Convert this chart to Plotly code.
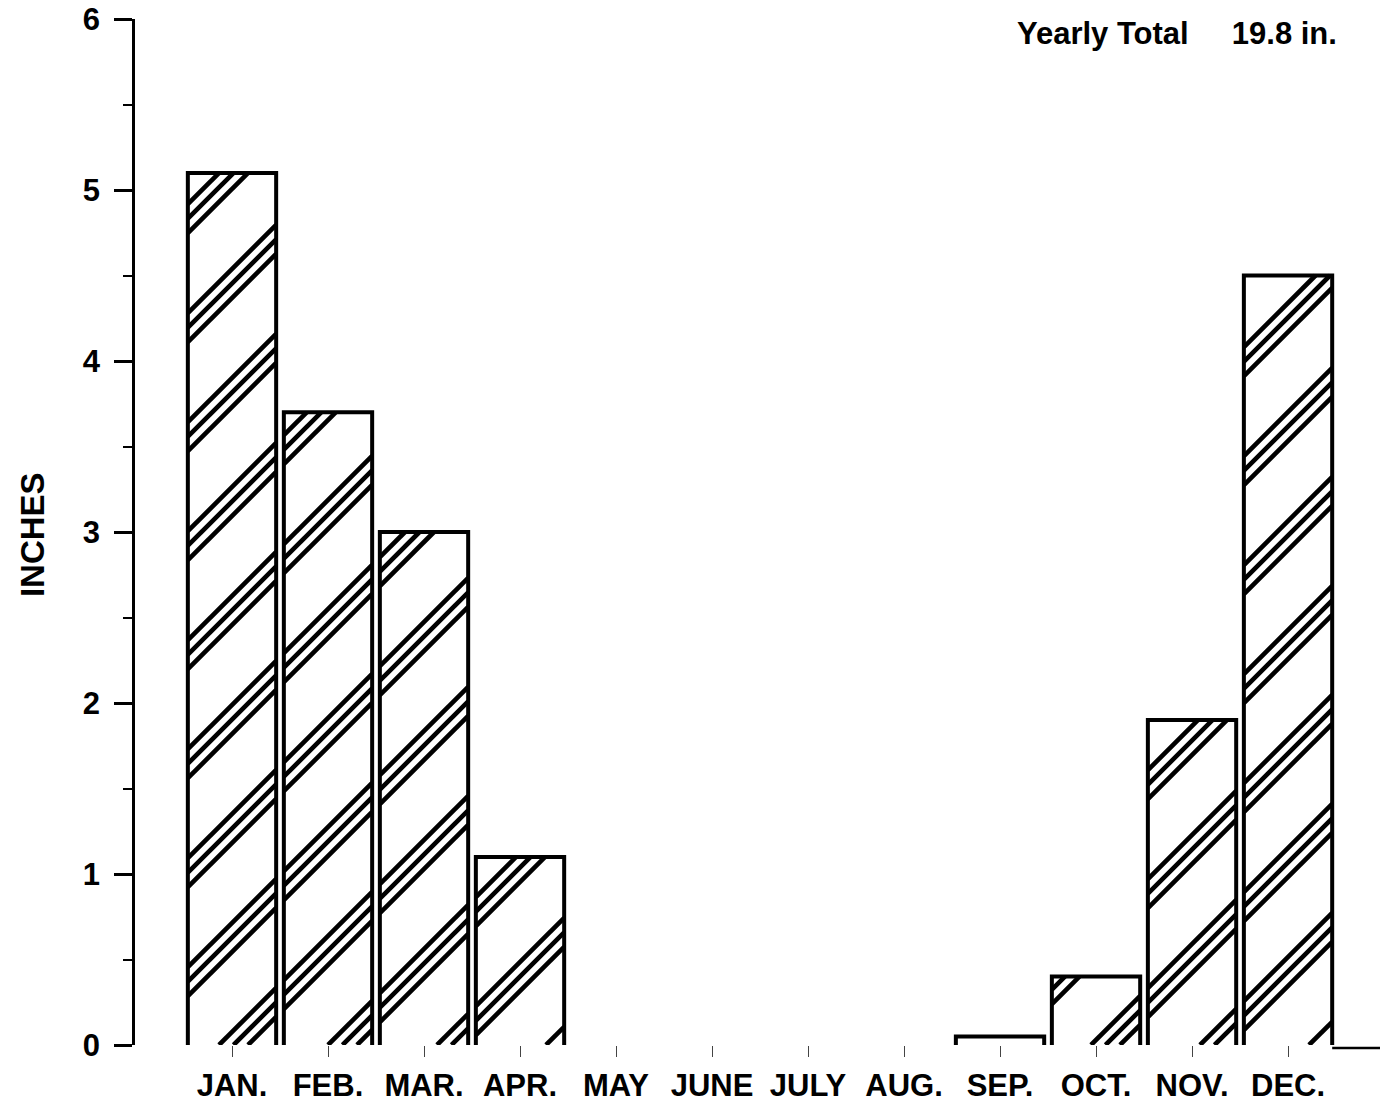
import math
import plotly.graph_objects as go

# Monthly precipitation (inches)
months = ["JAN.", "FEB.", "MAR.", "APR.", "MAY", "JUNE",
          "JULY", "AUG.", "SEP.", "OCT.", "NOV.", "DEC."]
rain_in = [5.1, 3.7, 3.0, 1.1, 0.0, 0.0, 0.0, 0.0, 0.05, 0.4, 1.9, 4.5]
y_tick_vals = [0, 1, 2, 3, 4, 5, 6]
total_label = "Yearly Total\u00a0\u00a0\u00a0\u00a0\u00a019.8 in."

# Page / plot geometry
W, H = 1380, 1103
M_L, M_R, M_T, M_B = 135, 0, 19, 58
X_RANGE = [-1.0104, 11.958]
Y_RANGE = [0, 6]
BAR_HALF = 0.46          # half bar width, category units

FONT = "Liberation Sans, Arial, Helvetica, sans-serif"

# pixels per data unit, used so the hatching runs at 45 degrees on screen
px_x = (W - M_L - M_R) / (X_RANGE[1] - X_RANGE[0])
px_y = (H - M_T - M_B) / (Y_RANGE[1] - Y_RANGE[0])

# hatch: groups of three parallel "/" strokes repeating along the diagonal
HATCH_PERIOD = 109.0
HATCH_PHASE = 96.0
HATCH_OFFSETS = [0.0, 14.5, 29.0]
MIN_STROKE = 16.0        # skip hatch slivers shorter than this (px)

xs = list(range(len(months)))

hx, hy = [], []
ox, oy = [], []
for i, val in zip(xs, rain_in):
    if val <= 0:
        continue
    # bar outline, open at the bottom
    ox += [i - BAR_HALF, i - BAR_HALF, i + BAR_HALF, i + BAR_HALF, None]
    oy += [0, val, val, 0, None]

    ul, ur = (i - BAR_HALF) * px_x, (i + BAR_HALF) * px_x
    vtop, vbot = -val * px_y, 0.0
    k0 = math.floor((ul + vtop - HATCH_PHASE - max(HATCH_OFFSETS)) / HATCH_PERIOD) - 1
    k1 = math.ceil((ur + vbot - HATCH_PHASE) / HATCH_PERIOD) + 1
    for k in range(k0, k1 + 1):
        for off in HATCH_OFFSETS:
            c = HATCH_PHASE + k * HATCH_PERIOD + off
            vlo = max(vtop, c - ur)
            vhi = min(vbot, c - ul)
            if (vhi - vlo) * math.sqrt(2) < MIN_STROKE:
                continue
            hx += [(c - vlo) / px_x, (c - vhi) / px_x, None]
            hy += [-vlo / px_y, -vhi / px_y, None]

fig = go.Figure()

fig.add_trace(go.Bar(
    x=xs, y=rain_in, width=2 * BAR_HALF,
    marker=dict(color="white", line=dict(width=0)),
    hovertemplate="%{customdata}: %{y} in.<extra></extra>",
    customdata=months, showlegend=False,
))

fig.add_trace(go.Scatter(
    x=hx, y=hy, mode="lines",
    line=dict(color="black", width=4.6),
    hoverinfo="skip", showlegend=False,
))

fig.add_trace(go.Scatter(
    x=ox, y=oy, mode="lines",
    line=dict(color="black", width=4),
    hoverinfo="skip", showlegend=False,
))

# short baseline stub to the right of the last bar
fig.add_shape(type="line", xref="x", yref="paper",
              x0=xs[-1] + BAR_HALF, x1=X_RANGE[1], y0=-0.003, y1=-0.003,
              line=dict(color="black", width=2.5))

fig.add_annotation(
    text=total_label, xref="paper", yref="paper",
    x=(1339 - M_L) / (W - M_L - M_R), y=(H - M_B - 33) / (H - M_T - M_B),
    xanchor="right", yanchor="middle", showarrow=False,
    font=dict(family=FONT, size=31, color="black", weight="bold"),
)

fig.add_annotation(
    text="INCHES", xref="paper", yref="paper",
    x=(32 - M_L) / (W - M_L - M_R), y=0.497,
    xanchor="center", yanchor="middle", textangle=-90, showarrow=False,
    font=dict(family=FONT, size=33, color="black", weight="bold"),
)

fig.update_layout(
    width=W, height=H, autosize=False,
    margin=dict(l=M_L, r=M_R, t=M_T, b=M_B, pad=0),
    paper_bgcolor="white", plot_bgcolor="white",
    bargap=0, showlegend=False,
    xaxis=dict(
        range=X_RANGE, tickmode="array", tickvals=xs, ticktext=months,
        showline=False, showgrid=False, zeroline=False,
        ticks="outside", ticklen=11, tickwidth=1.2, tickcolor="#444",
        ticklabelstandoff=2,
        tickfont=dict(family=FONT, size=31, color="black", weight="bold"),
    ),
    yaxis=dict(
        range=Y_RANGE, tickmode="array", tickvals=y_tick_vals,
        showline=True, linecolor="black", linewidth=2.5,
        showgrid=False, zeroline=False,
        ticks="outside", ticklen=18, tickwidth=2.5, tickcolor="black",
        minor=dict(dtick=0.5, ticks="outside", ticklen=9, tickwidth=2,
                   tickcolor="black", showgrid=False),
        ticklabelstandoff=8,
        tickfont=dict(family=FONT, size=31, color="black", weight="bold"),
    ),
)

fig.write_html("out.html")
